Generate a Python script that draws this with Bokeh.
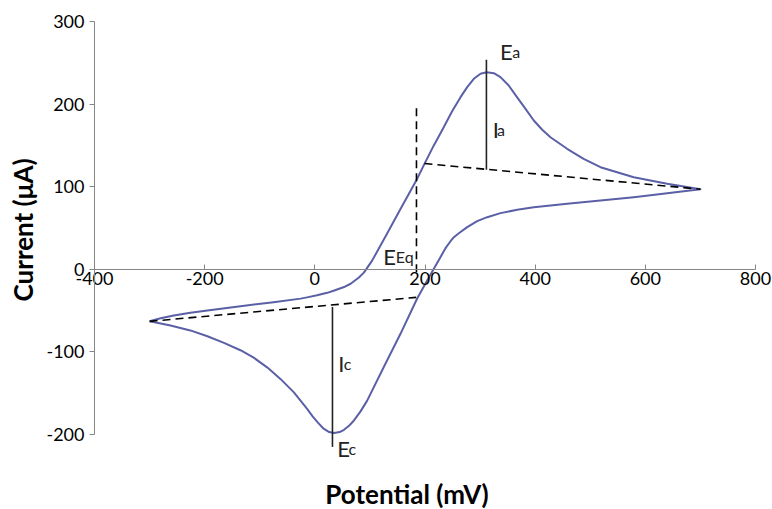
from bokeh.plotting import figure
from bokeh.models import LinearAxis, FixedTicker, Range1d, CustomJSTickFormatter
from bokeh.core.properties import value
from bokeh.embed import file_html
from bokeh.resources import INLINE

# ---- data ----
cv_fwd_x = [-300, -280, -256, -226, -195, -135, -75, -26, -14, 4, 22.5, 34, 53, 65, 80, 89, 104, 131, 155.5,
            184.6, 199, 216, 234, 249, 264.5, 276.6, 288.6, 300.8, 311.7, 325, 337, 352, 367, 382.5, 397.5,
            412.8, 427.8, 458, 488, 518.6, 579, 639.7, 700]
cv_fwd_y = [-63, -59.2, -55.9, -52.7, -49.9, -44.7, -39.8, -35.5, -34, -31.5, -28.5, -26, -21.5, -17.5, -10, -4,
            10.5, 43, 73, 108, 127.7, 150, 172, 191, 208.4, 220.5, 230.6, 236.7, 238.6, 237.4, 232.6, 222.5,
            208.4, 194.3, 180.1, 168.9, 159.9, 145.9, 133.8, 123.6, 111.5, 103.5, 97]
cv_rev_x = [700, 639.7, 579, 518.6, 458, 397.5, 367.4, 337, 313, 294.7, 276.6, 261.4, 253, 246.3, 237.2, 228,
            207, 186, 155.5, 125, 95, 83, 71, 62, 53, 45, 35, 26, 16, 6, -4, -14, -26, -38, -62, -86, -111,
            -135, -165, -195, -226, -262, -300]
cv_rev_y = [97, 92.1, 87.3, 83.3, 79.3, 75.2, 72.1, 68, 63.1, 58.3, 51, 43.7, 39.2, 34, 25.6, 14.7,
            -10, -35, -78.1, -118.5, -159, -172, -183, -189.5, -194.3, -197, -198.3, -197, -193, -186, -178,
            -169, -159, -149, -133, -119, -107, -98, -89, -81, -74, -68, -63]

base_a_x = [199, 700]
base_a_y = [128, 97]
base_c_x = [-300, 184]
base_c_y = [-63, -34]
eq_x = [184.5, 184.5]
eq_y = [-3.5, 197]
ia_x = [311.5, 311.5]
ia_y = [120.5, 253.6]
ic_x = [32, 32]
ic_y = [-45.5, -215]

main_text = ["E", "I", "E", "I", "E"]
main_x = [336, 323, 124, 42.5, 40.5]
main_y = [264, 169, 16, -113.5, -216.5]
sub_text = ["a", "a", "Eq", "c", "c"]
sub_x = [358.5, 330.5, 147, 52.5, 61]
sub_y = [264, 169, 16, -113.5, -216.5]

x_ticks = [-400, -200, 0, 200, 400, 600, 800]
y_ticks = [-200, -100, 0, 100, 200, 300]
x_title = "Potential (mV)"
y_title = "Current (\u03bcA)"

FONT = "Lato"
CURVE = "#5b60a6"
AX = "#868686"

p = figure(width=772, height=509, output_backend="svg", toolbar_location=None,
           x_axis_location=None, y_axis_location=None,
           x_range=Range1d(-570.65, 830.86), y_range=Range1d(-290.8, 325.42),
           min_border=0, min_border_left=0, min_border_right=0,
           min_border_top=0, min_border_bottom=0)
p.outline_line_color = None
p.xgrid.visible = False
p.ygrid.visible = False
p.background_fill_color = "white"
p.border_fill_color = "white"

fmt = CustomJSTickFormatter(code="return tick.toString();")

def style_axis(ax):
    ax.axis_line_color = AX
    ax.axis_line_width = 1
    ax.major_tick_line_color = AX
    ax.minor_tick_line_color = None
    ax.major_label_text_font = FONT
    ax.major_label_text_font_size = "18px"
    ax.major_label_text_color = "#000000"
    ax.formatter = fmt

xa = LinearAxis(fixed_location=0, bounds=(-400, 800), ticker=FixedTicker(ticks=x_ticks))
style_axis(xa)
xa.major_tick_in = 5
xa.major_tick_out = 0
xa.major_label_standoff = 3
p.add_layout(xa, "below")

ya = LinearAxis(fixed_location=-400, bounds=(-200, 300), ticker=FixedTicker(ticks=y_ticks))
style_axis(ya)
ya.major_tick_in = 0
ya.major_tick_out = 5
ya.major_label_standoff = 5
p.add_layout(ya, "left")

# cyclic voltammogram
p.line(cv_fwd_x + cv_rev_x[1:], cv_fwd_y + cv_rev_y[1:], line_color=CURVE, line_width=2,
       line_join="round")

# dashed construction lines
for xs, ys in [(base_a_x, base_a_y), (base_c_x, base_c_y), (eq_x, eq_y)]:
    p.line(xs, ys, line_color="#000000", line_width=1.6, line_dash="8 5")

# peak current markers
for xs, ys in [(ia_x, ia_y), (ic_x, ic_y)]:
    p.line(xs, ys, line_color="#222222", line_width=1.6)

p.text(main_x, main_y, text=main_text, text_font=value(FONT), text_font_size="22px",
       text_color="#222222", text_align="left", text_baseline="alphabetic")
p.text(sub_x, sub_y, text=sub_text, text_font=value(FONT), text_font_size="16px",
       text_color="#222222", text_align="left", text_baseline="alphabetic")

p.text([167.3], [-272.5], text=[x_title], text_font=value(FONT), text_font_size="26px",
       text_font_style="bold", text_color="#000000", text_align="center", text_baseline="alphabetic")
p.text([-530.5], [47.6], text=[y_title], text_font=value(FONT), text_font_size="26px",
       text_font_style="bold", text_color="#000000", text_align="center", text_baseline="middle",
       angle=1.5707963)

open("out.html", "w").write(file_html(p, INLINE))
